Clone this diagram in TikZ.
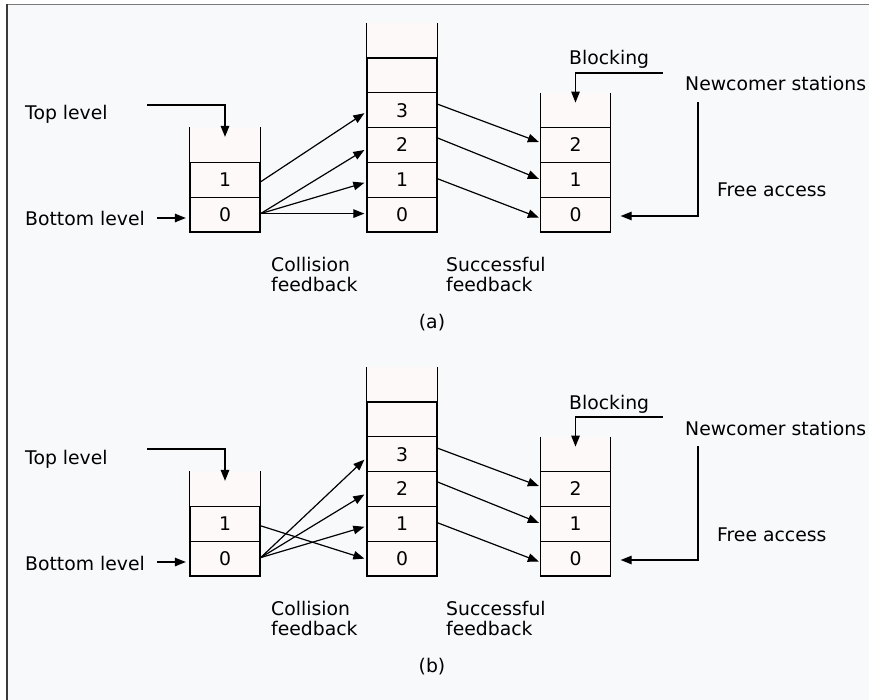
\documentclass[tikz,border=0pt]{standalone}
\usepackage{fontspec}
\setmainfont{DejaVu Sans}
\usetikzlibrary{arrows.meta,calc}
\definecolor{panelbg}{HTML}{F8F9FB}
\definecolor{cellfill}{HTML}{FDF9F9}
\definecolor{frametop}{HTML}{7A7A7A}
\definecolor{frameleft}{HTML}{3A3A3A}
\begin{document}
\begin{tikzpicture}[x=1pt,y=-1pt,
  txt/.style={font=\fontsize{18.8}{20}\selectfont},
  cell/.style={txt, draw, fill=cellfill, line width=1.3pt, minimum width=70pt,
    minimum height=34.8pt, inner sep=0pt},
  opencell/.style={fill=cellfill, minimum width=70pt, minimum height=34.8pt, inner sep=0pt},
  side/.style={line width=1.3pt},
  lbl/.style={txt, inner sep=0pt, anchor=base west},
  lbl2/.style={txt, inner sep=0pt, anchor=north west, align=left},
  conn/.style={line width=1.2pt, -{Triangle[length=11pt,width=8.5pt]}},
]
\useasboundingbox (0,0) rectangle (869,700);
% page and panel background with the frame edges
\fill[white] (0,0) rectangle (869,700);
\fill[panelbg] (6,5) rectangle (869,700);
\draw[frametop, line width=1.8pt] (6,4.5) -- (869,4.5);
\draw[frameleft, line width=1.8pt] (6.6,4) -- (6.6,700);

\foreach \p/\dy in {a/0, b/344} {
\begin{scope}[shift={(0,\dy)}]
  % left stack (two levels)
  \node[opencell] (\p-L2) at (225,145) {};
  \draw[side] (\p-L2.north west) -- (\p-L2.south west) (\p-L2.north east) -- (\p-L2.south east);
  \node[cell] (\p-L1) at (225,179.8) {1};
  \node[cell] (\p-L0) at (225,214.6) {0};
  % middle stack
  \node[opencell] (\p-M5) at (402,40.6) {};
  \draw[side] (\p-M5.north west) -- (\p-M5.south west) (\p-M5.north east) -- (\p-M5.south east);
  \node[cell] (\p-M4) at (402,75.4) {};
  \node[cell] (\p-M3) at (402,110.2) {3};
  \node[cell] (\p-M2) at (402,145) {2};
  \node[cell] (\p-M1) at (402,179.8) {1};
  \node[cell] (\p-M0) at (402,214.6) {0};
  % right stack
  \node[opencell] (\p-R3) at (575.5,110.2) {};
  \draw[side] (\p-R3.north west) -- (\p-R3.south west) (\p-R3.north east) -- (\p-R3.south east);
  \node[cell] (\p-R2) at (575.5,145) {2};
  \node[cell] (\p-R1) at (575.5,179.8) {1};
  \node[cell] (\p-R0) at (575.5,214.6) {0};

  % labels
  \node[lbl] (\p-top) at (25,120) {Top level};
  \node[lbl] (\p-bot) at (25,226) {Bottom level};
  \node[lbl2] (\p-coll) at (271,257.5) {Collision\\feedback};
  \node[lbl2] (\p-succ) at (446,257.5) {Successful\\feedback};
  \node[lbl] (\p-blk) at (569,65) {Blocking};
  \node[lbl] (\p-new) at (685,91) {Newcomer stations};
  \node[lbl] (\p-free) at (717,197) {Free access};
  \node[txt, inner sep=0pt, anchor=base] (\p-cap) at (432,328) {(\p)};

  % entry arrows
  \coordinate (\p-topstart) at (147,105);
  \draw[conn] (\p-topstart) -| ($(\p-L2.north)+(0,9.5)$);
  \coordinate (\p-botstart) at (157,218);
  \draw[conn, shorten >=3.5pt] (\p-botstart) -- (\p-botstart -| \p-L0.west);
  \coordinate (\p-blkstart) at (663,73);
  \draw[conn] (\p-blkstart) -| ($(\p-R3.north)+(0,10)$);
  \coordinate (\p-newstart) at (698,102);
  \draw[conn] (\p-newstart) |- ($(\p-R0.east)+(9.5,1.4)$);

  % successful feedback
  \draw[conn] ($(\p-M3.east)+(0,-6)$) -- ($(\p-R2.west)+(-1,-3)$);
  \draw[conn] ($(\p-M2.east)+(0,-7)$) -- ($(\p-R1.west)+(-1,-1)$);
  \draw[conn] ($(\p-M1.east)+(0,-1)$) -- ($(\p-R0.west)+(-1,3)$);
\end{scope}
}

% collision feedback, panel (a)
\draw[conn] ($(a-L1.east)+(0,2)$) -- ($(a-M3.west)+(-2,3)$);
\draw[conn] ($(a-L0.east)+(0,-1)$) -- ($(a-M2.west)+(-2,5)$);
\draw[conn] ($(a-L0.east)+(0,-1)$) -- ($(a-M1.west)+(-2,3)$);
\draw[conn] ($(a-L0.east)+(0,-1)$) -- ($(a-M0.west)+(-2,-1)$);

% collision feedback, panel (b)
\draw[conn] ($(b-L1.east)+(0,2)$) -- ($(b-M0.west)+(-2,0)$);
\draw[conn] ($(b-L0.east)+(0,-1)$) -- ($(b-M3.west)+(-2,5.5)$);
\draw[conn] ($(b-L0.east)+(0,-1)$) -- ($(b-M2.west)+(-2,5.5)$);
\draw[conn] ($(b-L0.east)+(0,-1)$) -- ($(b-M1.west)+(-2,3)$);
\end{tikzpicture}
\end{document}
